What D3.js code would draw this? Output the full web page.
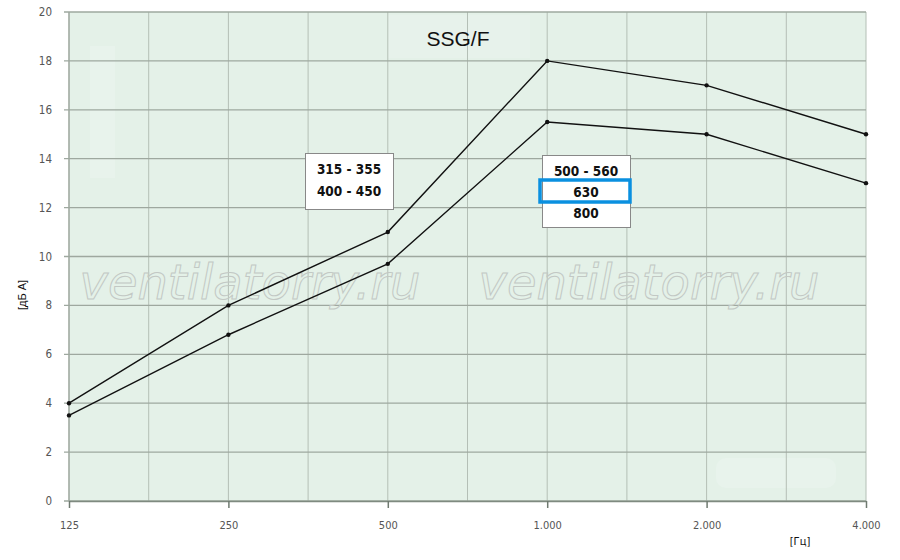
<!DOCTYPE html>
<html>
<head>
<meta charset="utf-8">
<script src="https://cdn.jsdelivr.net/npm/d3@7"></script>
<style>
  body { margin: 0; background: #fff; }
  svg { display: block; }
</style>
</head>
<body>
<div id="graph"></div>
<script>
const freqs = ['125', '250', '500', '1.000', '2.000', '4.000']
const upper = [4, 8, 11, 18, 17, 15]
const lower = [3.5, 6.8, 9.7, 15.5, 15, 13]
const yTicks = [0, 2, 4, 6, 8, 10, 12, 14, 16, 18, 20]
const title = 'SSG/F'
const leftLabels = ['315 - 355', '400 - 450']
const rightLabels = ['500 - 560', '630', '800']

const width = 900
const height = 560
const padL = 69, padR = 866, padT = 12, padB = 501

const svg = d3.select('#graph')
  .append('svg')
  .attr('width', width)
  .attr('height', height)

const xScale = d3.scalePoint().domain(freqs).range([padL, padR])
const yScale = d3.scaleLinear().domain([0, 20]).range([padB, padT])

// plot background
svg.append('rect')
  .attr('x', padL).attr('y', padT)
  .attr('width', padR - padL).attr('height', padB - padT)
  .attr('fill', '#e4f1e8')

// faint artefacts of the scanned original
svg.append('rect')
  .attr('x', 90).attr('y', 46).attr('width', 25).attr('height', 132)
  .attr('fill', '#e8f3ec')
svg.append('rect')
  .attr('x', 716).attr('y', 458).attr('width', 120).attr('height', 30).attr('rx', 10)
  .attr('fill', '#e8f3ec')
svg.append('rect')
  .attr('x', 388).attr('y', 15).attr('width', 142).attr('height', 43)
  .attr('fill', '#e7f2eb')

// vertical grid: each category and half way between
const step = xScale.step()
const vLines = []
freqs.forEach((f, i) => {
  vLines.push(xScale(f))
  if (i < freqs.length - 1) vLines.push(xScale(f) + step / 2)
})
svg.append('g').selectAll('line')
  .data(vLines)
  .enter()
  .append('line')
  .attr('x1', d => d).attr('x2', d => d)
  .attr('y1', padT).attr('y2', padB)
  .attr('stroke', '#b4bfb6')
  .attr('stroke-width', 1)

// horizontal grid
svg.append('g').selectAll('line')
  .data(yTicks)
  .enter()
  .append('line')
  .attr('x1', padL - 5).attr('x2', padR)
  .attr('y1', d => yScale(d)).attr('y2', d => yScale(d))
  .attr('stroke', '#9ea89f')
  .attr('stroke-width', 1.3)

// left axis line
svg.append('line')
  .attr('x1', padL).attr('x2', padL).attr('y1', padT).attr('y2', padB)
  .attr('stroke', '#9ea89f').attr('stroke-width', 1.3)

// y tick labels
svg.append('g').selectAll('text')
  .data(yTicks)
  .enter()
  .append('text')
  .attr('x', 52)
  .attr('y', d => yScale(d) + 4)
  .attr('text-anchor', 'end')
  .attr('font-family', 'DejaVu Sans Condensed, DejaVu Sans, sans-serif')
  .attr('font-size', 11.5)
  .attr('fill', '#555')
  .text(d => d)

// x axis
const xAxis = d3.axisBottom(xScale).tickSize(7).tickSizeOuter(0)
const gx = svg.append('g')
  .attr('transform', `translate(0,${padB})`)
  .call(xAxis)
gx.select('.domain').attr('stroke', '#7f8a80').attr('stroke-width', 1.5)
gx.selectAll('.tick line').attr('stroke', '#6f7a70').attr('stroke-width', 1.5)
gx.selectAll('.tick text')
  .attr('dy', 0).attr('y', 28)
  .attr('font-family', 'DejaVu Sans Condensed, DejaVu Sans, sans-serif')
  .attr('font-size', 11)
  .attr('fill', '#555')

// axis titles
svg.append('text')
  .attr('transform', 'translate(26,295) rotate(-90)')
  .attr('text-anchor', 'middle')
  .attr('font-family', 'Liberation Sans, Arial, sans-serif')
  .attr('font-size', 11)
  .attr('fill', '#111')
  .text('[дБ А]')
svg.append('text')
  .attr('x', 800).attr('y', 545)
  .attr('text-anchor', 'middle')
  .attr('font-family', 'DejaVu Sans Condensed, DejaVu Sans, sans-serif')
  .attr('font-size', 11)
  .attr('fill', '#111')
  .text('[Гц]')

// watermark, outlined text
const wm = svg.append('g')
;[250, 649].forEach(cx => {
  wm.append('text')
    .attr('x', cx).attr('y', 299)
    .attr('text-anchor', 'middle')
    .attr('font-family', 'DejaVu Sans, sans-serif')
    .attr('font-style', 'italic')
    .attr('font-size', 48)
    .attr('fill', 'none')
    .attr('stroke', '#c2c8c4')
    .attr('stroke-width', 1)
    .text('ventilatorry.ru')
})

// title
svg.append('text')
  .attr('x', 458).attr('y', 46)
  .attr('text-anchor', 'middle')
  .attr('font-family', 'Liberation Sans, Arial, sans-serif')
  .attr('font-size', 21)
  .attr('fill', '#111')
  .text(title)

// lines
const line = d3.line()
  .x((d, i) => xScale(freqs[i]))
  .y(d => yScale(d))

;[upper, lower].forEach(series => {
  svg.append('path')
    .datum(series)
    .attr('d', line)
    .attr('fill', 'none')
    .attr('stroke', '#111')
    .attr('stroke-width', 1.4)
  svg.append('g').selectAll('circle')
    .data(series)
    .enter()
    .append('circle')
    .attr('cx', (d, i) => xScale(freqs[i]))
    .attr('cy', d => yScale(d))
    .attr('r', 2.2)
    .attr('fill', '#111')
})

// size boxes
const labelFont = 'DejaVu Sans Condensed, DejaVu Sans, sans-serif'
const box1 = svg.append('g')
box1.append('rect')
  .attr('x', 305.5).attr('y', 153.5).attr('width', 88).attr('height', 56)
  .attr('fill', '#fff').attr('stroke', '#888')
leftLabels.forEach((t, i) => {
  box1.append('text')
    .attr('x', 349).attr('y', 174 + i * 22)
    .attr('text-anchor', 'middle')
    .attr('font-family', labelFont)
    .attr('font-weight', 'bold')
    .attr('font-size', 13.5)
    .attr('fill', '#111')
    .text(t)
})

const box2 = svg.append('g')
box2.append('rect')
  .attr('x', 542.5).attr('y', 155.5).attr('width', 88).attr('height', 72)
  .attr('fill', '#fff').attr('stroke', '#888')
rightLabels.forEach((t, i) => {
  box2.append('text')
    .attr('x', 586).attr('y', 176 + i * 21)
    .attr('text-anchor', 'middle')
    .attr('font-family', labelFont)
    .attr('font-weight', 'bold')
    .attr('font-size', 13.5)
    .attr('fill', '#111')
    .text(t)
})
box2.append('rect')
  .attr('x', 540).attr('y', 180).attr('width', 90).attr('height', 22)
  .attr('fill', 'none')
  .attr('stroke', '#0a90e0')
  .attr('stroke-width', 3.5)
</script>
</body>
</html>
